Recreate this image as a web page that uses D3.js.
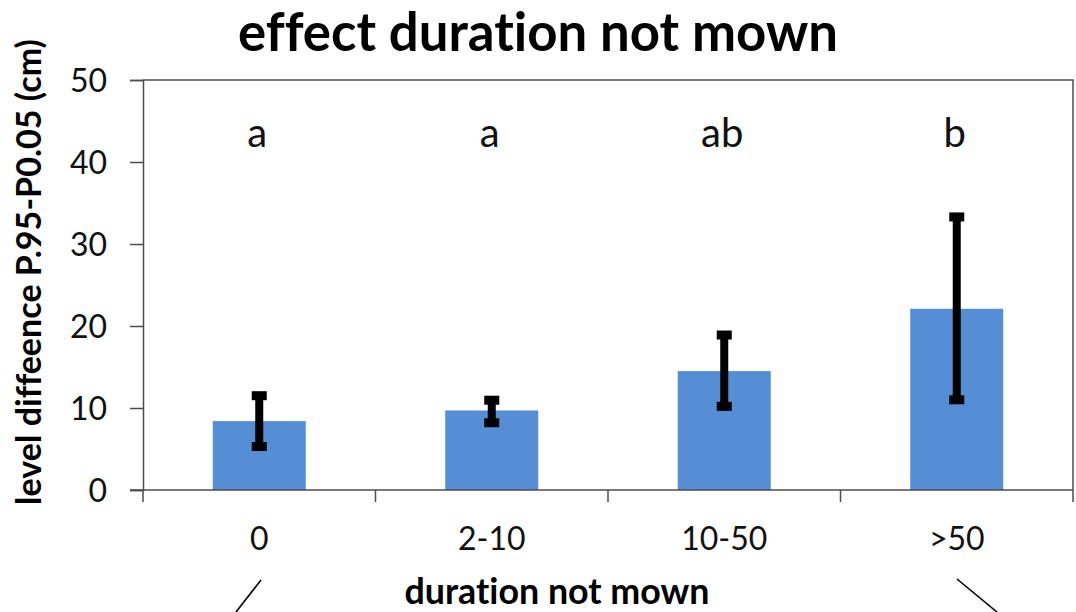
<!DOCTYPE html>
<html>
<head>
<meta charset="utf-8">
<script src="https://cdn.jsdelivr.net/npm/d3@7"></script>
<style>
  html, body { margin: 0; padding: 0; background: #fff; }
  svg { display: block; font-family: Lato, "Open Sans", sans-serif; }
  svg text { font-variant-ligatures: none; font-feature-settings: "liga" 0, "clig" 0; }
</style>
</head>
<body>
<svg id="chart" width="1076" height="612"></svg>
<script>
// Mean level difference per class of mowing absence, with error range and group letters
const categories = ["0", "2-10", "10-50", ">50"];
const means      = [8.4, 9.7, 14.5, 22.1];
const upperErr   = [11.5, 10.95, 18.9, 33.3];
const lowerErr   = [5.3, 8.2, 10.2, 11.0];
const groups     = ["a", "a", "ab", "b"];
const yTicks     = [0, 10, 20, 30, 40, 50];

const titleText  = "effect duration not mown";
const xTitleText = "duration not mown";
const yTitleText = "level diffeence P.95-P0.05 (cm)";

const svg = d3.select("#chart");
const plot = { left: 143, right: 1073, top: 80, bottom: 490 };

const x = d3.scaleBand()
  .domain(categories)
  .range([plot.left, plot.right])
  .paddingInner(0.6)
  .paddingOuter(0.3);

const xEdges = d3.scaleBand()
  .domain(categories)
  .range([plot.left, plot.right]);

const y = d3.scaleLinear()
  .domain([0, 50])
  .range([plot.bottom, plot.top]);

const axisColor = "#4d4d4d";
const textColor = "#111";

// scale a text element's font so that it spans the given width
function fitWidth(sel, width) {
  const node = sel.node();
  const base = parseFloat(sel.attr("font-size"));
  const len = node.getComputedTextLength();
  if (len > 0) sel.attr("font-size", (base * width / len).toFixed(2));
  return sel;
}

// plot area frame (top and right sides)
svg.append("path")
  .attr("d", `M${plot.left},${plot.top}H${plot.right}V${plot.bottom}`)
  .attr("fill", "none")
  .attr("stroke", axisColor)
  .attr("stroke-width", 1.5);

// bars
svg.append("g").selectAll("rect")
  .data(categories)
  .join("rect")
  .attr("x", d => x(d))
  .attr("width", x.bandwidth())
  .attr("y", (d, i) => y(means[i]))
  .attr("height", (d, i) => y(0) - y(means[i]))
  .attr("fill", "#558ED5");

// y axis
const yAxis = svg.append("g")
  .attr("transform", `translate(${plot.left},0)`)
  .call(d3.axisLeft(y).tickValues(yTicks).tickSize(13).tickPadding(23).tickFormat(d3.format("d")));
yAxis.select(".domain").attr("stroke", axisColor).attr("stroke-width", 1.5);
yAxis.selectAll(".tick line").attr("stroke", axisColor).attr("stroke-width", 1.5);
yAxis.selectAll(".tick text")
  .attr("font-size", 32)
  .attr("fill", textColor)
  .attr("font-family", "Lato, sans-serif")
  .attr("dy", "0.36em");

// x axis with ticks on category boundaries
const xAxisG = svg.append("g").attr("transform", `translate(0,${plot.bottom})`);
xAxisG.append("line")
  .attr("x1", plot.left - 13).attr("x2", plot.right)
  .attr("stroke", axisColor).attr("stroke-width", 1.5);
const boundaries = categories.map(c => xEdges(c))
  .concat([xEdges(categories[categories.length - 1]) + xEdges.bandwidth()]);
xAxisG.selectAll("line.tick")
  .data(boundaries)
  .join("line")
  .attr("class", "tick")
  .attr("x1", d => d).attr("x2", d => d)
  .attr("y1", 0).attr("y2", 12)
  .attr("stroke", axisColor).attr("stroke-width", 1.5);
xAxisG.selectAll("text")
  .data(categories)
  .join("text")
  .attr("x", d => x(d) + x.bandwidth() / 2)
  .attr("y", 60)
  .attr("text-anchor", "middle")
  .attr("font-size", 32)
  .attr("fill", textColor)
  .text(d => d);

// error bars
const err = svg.append("g").attr("fill", "#000");
categories.forEach((c, i) => {
  const cx = x(c) + x.bandwidth() / 2;
  const yTop = y(upperErr[i]);
  const yBot = y(lowerErr[i]);
  err.append("rect")
    .attr("x", cx - 4).attr("width", 8)
    .attr("y", yTop).attr("height", yBot - yTop);
  [yTop, yBot].forEach(yy => {
    err.append("rect")
      .attr("x", cx - 7.5).attr("width", 15)
      .attr("y", yy - 4.5).attr("height", 9);
  });
});

// group letters
svg.append("g").selectAll("text")
  .data(categories)
  .join("text")
  .attr("x", d => x(d) + x.bandwidth() / 2 - 2)
  .attr("y", 147)
  .attr("text-anchor", "middle")
  .attr("font-size", 40)
  .attr("fill", textColor)
  .text((d, i) => groups[i]);

// titles
fitWidth(svg.append("text")
  .attr("x", 538).attr("y", 51)
  .attr("text-anchor", "middle")
  .attr("font-size", 40)
  .attr("font-weight", "bold")
  .attr("fill", "#000")
  .text(titleText), 600);

fitWidth(svg.append("text")
  .attr("x", 557).attr("y", 604)
  .attr("text-anchor", "middle")
  .attr("font-size", 28)
  .attr("font-weight", "bold")
  .attr("fill", "#000")
  .text(xTitleText), 305);

fitWidth(svg.append("text")
  .attr("transform", "translate(41,272) rotate(-90)")
  .attr("text-anchor", "middle")
  .attr("font-size", 26)
  .attr("font-weight", "bold")
  .attr("fill", "#000")
  .text(yTitleText), 466);

// two connector strokes below the axis title
const connectors = [
  [[261, 580], [236, 612]],
  [[957, 579], [997, 612]]
];
svg.append("g").selectAll("path")
  .data(connectors)
  .join("path")
  .attr("d", d => d3.line()(d))
  .attr("stroke", "#000")
  .attr("stroke-width", 1.6)
  .attr("fill", "none");
</script>
</body>
</html>
